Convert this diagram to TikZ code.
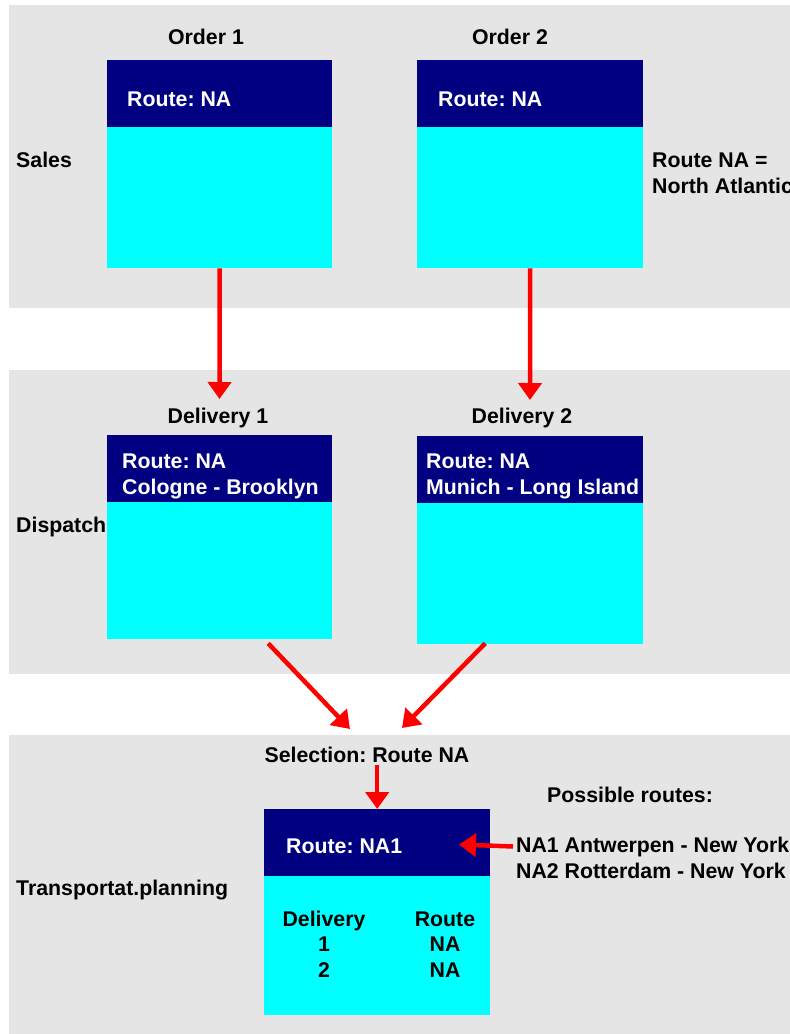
\documentclass[tikz,border=0pt]{standalone}
\usepackage{fontspec}
\setmainfont{Liberation Sans}
\usetikzlibrary{arrows.meta,calc}
\definecolor{bandgray}{HTML}{E5E5E5}
\definecolor{hdrblue}{HTML}{000080}
\definecolor{bodycyan}{HTML}{00FFFF}
\definecolor{arrowred}{HTML}{FF0000}
\frenchspacing
\begin{document}
\begin{tikzpicture}[x=1pt,y=-1pt,
  band/.style={fill=bandgray, draw=none},
  lbl/.style={inner sep=0pt, font=\fontsize{21.3}{25.5}\selectfont\bfseries, text=black},
  hdrtext/.style={lbl, text=white, align=left},
  hdrbox/.style={fill=hdrblue, draw=none, inner sep=0pt, anchor=north west, minimum width=225, minimum height=67},
  bodybox/.style={fill=bodycyan, draw=none, inner sep=0pt, anchor=north west, minimum width=225},
  redarrow/.style={draw=arrowred, line width=4.5pt, -{Triangle[width=23pt,length=17pt]}}
]
\useasboundingbox (0,0) rectangle (790,1034);

% lanes
\fill[band] (9,5) rectangle (790,308);
\fill[band] (9,370) rectangle (790,674);
\fill[band] (9,735) rectangle (790,1034);

% lane titles
\node[lbl, anchor=base west] (sales) at (16,167) {Sales};
\node[lbl, anchor=base west] (dispatch) at (16,532) {Dispatch};
\node[lbl, anchor=base west] (transp) at (16,895) {Transportat.planning};

% sales orders
\node[lbl, anchor=base] (o1label) at (206,44) {Order 1};
\node[hdrbox] (o1head) at (107,60) {};
\node[bodybox, minimum height=141] (o1body) at (107,127) {};
\node[hdrtext, anchor=base west] (o1route) at (127,106) {Route: NA};

\node[lbl, anchor=base] (o2label) at (510,44) {Order 2};
\node[hdrbox, minimum width=226] (o2head) at (417,60) {};
\node[bodybox, minimum width=226, minimum height=141] (o2body) at (417,127) {};
\node[hdrtext, anchor=base west] (o2route) at (438,106) {Route: NA};

% multi-line nodes: the base anchor sits on the last line
\node[lbl, anchor=base west, align=left] (nanote) at (652,193) {Route NA =\\North Atlantic};

% deliveries
\node[lbl, anchor=base] (d1label) at (218,423) {Delivery 1};
\node[hdrbox] (d1head) at (107,435) {};
\node[bodybox, minimum height=137] (d1body) at (107,502) {};
\node[hdrtext, anchor=base west] (d1route) at (122,494) {Route: NA\\Cologne - Brooklyn};

\node[lbl, anchor=base] (d2label) at (522,423) {Delivery 2};
\node[hdrbox, minimum width=226] (d2head) at (417,436) {};
\node[bodybox, minimum width=226, minimum height=141] (d2body) at (417,503) {};
\node[hdrtext, anchor=base west] (d2route) at (426,494) {Route: NA\\Munich - Long Island};

% transportation planning
\node[lbl, anchor=base] (sel) at (367,762) {Selection: Route NA};
\node[hdrbox, minimum width=226] (thead) at (264,809) {};
\node[bodybox, minimum width=226, minimum height=139] (tbody) at (264,876) {};
\node[hdrtext, anchor=base west] (troute) at (286,853) {Route: NA1};
\node[lbl, anchor=base, align=center] (tdeliv) at (324,977) {Delivery\\1\\2};
\node[lbl, anchor=base, align=center] (troutes) at (445,977) {Route\\NA\\NA};

\node[lbl, anchor=base west] (possible) at (547,802) {Possible routes:};
\node[lbl, anchor=base west] (na1) at (516,852) {NA1 Antwerpen - New York};
\node[lbl, anchor=base west] (na2) at (516,878) {NA2 Rotterdam - New York};

% arrow tips
\coordinate (d1in) at (219.5,399);
\coordinate (d2in) at (530,400);
\coordinate (selinl) at (350,729);
\coordinate (selinr) at (402,728);
\coordinate (routein) at (459,844.5);

% connectors
\draw[redarrow] (o1body.south) -- (d1in);
\draw[redarrow] (o2body.south) -- (d2in);
\draw[redarrow] ($(d1body.south)+(48.5,4)$) -- (selinl);
\draw[redarrow] ($(d2body.south)+(-45,-1)$) -- (selinr);
\draw[redarrow] ($(sel.south -| thead.north)+(0,3)$) -- (thead.north);
\draw[redarrow] ($(na1.west)+(-3,0)$) -- (routein);
\end{tikzpicture}
\end{document}
